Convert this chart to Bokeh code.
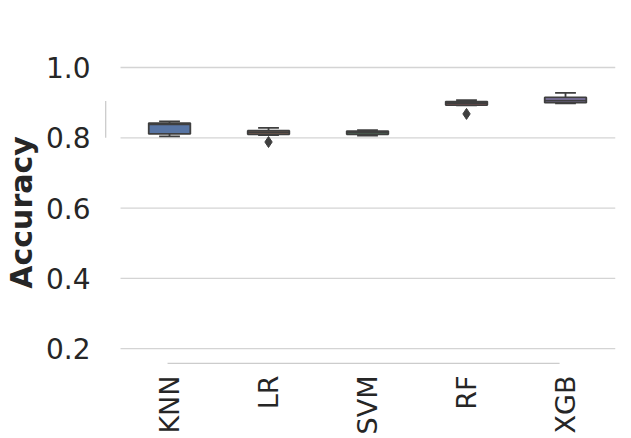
import math
import numpy as np
from bokeh.plotting import figure
from bokeh.models import Range1d, FixedTicker, NumeralTickFormatter
from bokeh.embed import file_html
from bokeh.resources import INLINE

# ---- data ----
categories = ["KNN", "LR", "SVM", "RF", "XGB"]
whisker_lo = [0.804, 0.808, 0.806, 0.892, 0.898]
q1 = [0.811, 0.810, 0.810, 0.893, 0.900]
median = [0.838, 0.815, 0.815, 0.899, 0.906]
q3 = [0.842, 0.820, 0.819, 0.903, 0.915]
whisker_hi = [0.847, 0.828, 0.822, 0.907, 0.928]
outlier_cat = ["LR", "RF"]
outlier_val = [0.788, 0.868]
y_ticks = [0.2, 0.4, 0.6, 0.8, 1.0]
colors = ["#5875a4", "#cc8963", "#5f9e6e", "#b55d60", "#857aab"]

LINE = "#3f3f3f"
TEXT = "#262626"
GRID = "#d4d4d4"
SPINE = "#cccccc"
BOX_W = 0.42
CAP_W = BOX_W / 2

xs = np.arange(len(categories), dtype=float)

p = figure(width=631, height=438,
           x_range=Range1d(-0.667, 4.505), y_range=Range1d(0.152, 1.0228),
           output_backend="svg", toolbar_location=None,
           min_border_left=103, min_border_right=16,
           min_border_top=59, min_border_bottom=73)
p.outline_line_color = None
p.xgrid.visible = False
p.ygrid.visible = False

# gridlines (horizontal) at tick values
n = len(y_ticks)
p.segment(x0=[-0.495] * n, x1=[4.505] * n, y0=y_ticks, y1=y_ticks,
          line_color=GRID, line_width=1.3)

# trimmed, offset spines (seaborn despine style)
p.segment(x0=[-0.645], x1=[-0.645], y0=[0.8], y1=[0.905], line_color=SPINE, line_width=1.3)
p.segment(x0=[-0.02], x1=[3.94], y0=[0.158], y1=[0.158], line_color=SPINE, line_width=1.3)

# whiskers
p.segment(x0=xs, x1=xs, y0=q3, y1=whisker_hi, line_color=LINE, line_width=1.8)
p.segment(x0=xs, x1=xs, y0=q1, y1=whisker_lo, line_color=LINE, line_width=1.8)
# caps
p.segment(x0=xs - CAP_W / 2, x1=xs + CAP_W / 2, y0=whisker_hi, y1=whisker_hi,
          line_color=LINE, line_width=1.8)
p.segment(x0=xs - CAP_W / 2, x1=xs + CAP_W / 2, y0=whisker_lo, y1=whisker_lo,
          line_color=LINE, line_width=1.8)
# boxes
p.vbar(x=xs, width=BOX_W, bottom=q1, top=q3, fill_color=colors,
       line_color=LINE, line_width=1.8)
# medians
p.segment(x0=xs - BOX_W / 2, x1=xs + BOX_W / 2, y0=median, y1=median,
          line_color=LINE, line_width=1.8)
# outliers
ox = [categories.index(c) for c in outlier_cat]
p.scatter(x=ox, y=outlier_val, marker="diamond", size=11,
          fill_color=LINE, line_color=LINE)

# y axis
p.yaxis.ticker = FixedTicker(ticks=y_ticks)
p.yaxis.formatter = NumeralTickFormatter(format="0.0")
p.yaxis.axis_line_color = None
p.yaxis.major_tick_line_color = None
p.yaxis.minor_tick_line_color = None
p.yaxis.major_tick_in = 0
p.yaxis.major_tick_out = 0
p.yaxis.major_label_standoff = 13
p.yaxis.major_label_text_font = "DejaVu Sans"
p.yaxis.major_label_text_font_size = "28px"
p.yaxis.major_label_text_color = TEXT
p.yaxis.axis_label = "Accuracy"
p.yaxis.axis_label_text_font = "DejaVu Sans"
p.yaxis.axis_label_text_font_style = "bold"
p.yaxis.axis_label_text_font_size = "30px"
p.yaxis.axis_label_text_color = TEXT
p.yaxis.axis_label_standoff = 4

# x axis
p.xaxis.ticker = FixedTicker(ticks=list(range(len(categories))))
p.xaxis.major_label_overrides = {i: c for i, c in enumerate(categories)}
p.xaxis.major_label_orientation = math.pi / 2
p.xaxis.axis_line_color = None
p.xaxis.major_tick_line_color = None
p.xaxis.minor_tick_line_color = None
p.xaxis.major_tick_in = 0
p.xaxis.major_tick_out = 0
p.xaxis.major_label_standoff = 10
p.xaxis.major_label_text_font = "DejaVu Sans"
p.xaxis.major_label_text_font_size = "27px"
p.xaxis.major_label_text_color = TEXT

open("out.html", "w").write(file_html(p, INLINE))
